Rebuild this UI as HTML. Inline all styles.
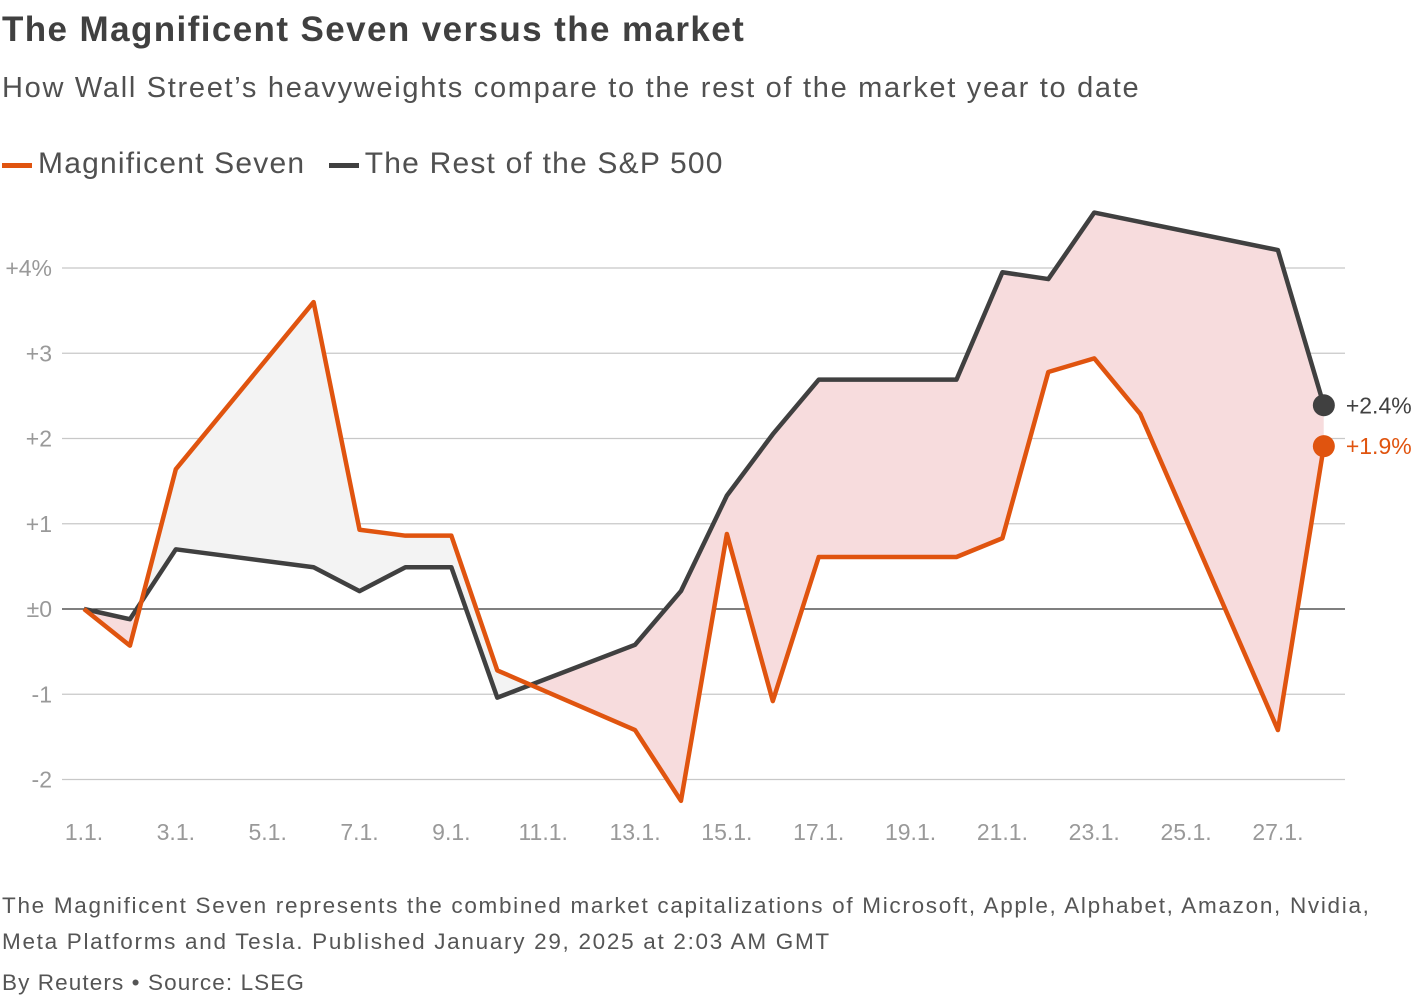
<!DOCTYPE html>
<html><head><meta charset="utf-8">
<style>
body{margin:0;width:1420px;height:1000px;background:#fff;font-family:"Liberation Sans",sans-serif;overflow:hidden;position:relative}
.t{position:absolute;left:2px;white-space:nowrap}
</style></head><body>
<div class="t" style="top:10px;font-size:35px;font-weight:bold;color:#404040;letter-spacing:1.4px">The Magnificent Seven versus the market</div>
<div class="t" style="top:72px;font-size:29px;color:#505050;letter-spacing:1.7px">How Wall Street’s heavyweights compare to the rest of the market year to date</div>
<div class="t" style="top:147px;font-size:30px;color:#505050;letter-spacing:1.2px">
<span><span style="display:inline-block;width:30px;height:5px;background:#e0540f;vertical-align:middle;margin-right:6px"></span>Magnificent Seven</span>
<span style="margin-left:14px"><span style="display:inline-block;width:30px;height:5px;background:#404040;vertical-align:middle;margin-right:6px"></span>The Rest of the S&amp;P 500</span>
</div>
<svg id="chart" width="1420" height="1000" style="position:absolute;left:0;top:0"></svg>
<div class="t" style="top:888px;font-size:22.5px;line-height:36px;color:#555;letter-spacing:1.7px">The Magnificent Seven represents the combined market capitalizations of Microsoft, Apple, Alphabet, Amazon, Nvidia,<br>Meta Platforms and Tesla. Published January 29, 2025 at 2:03 AM GMT</div>
<div class="t" style="top:970px;font-size:22.5px;color:#555;letter-spacing:1.1px">By Reuters • Source: LSEG</div>
<script>
const days=[1,2,3,6,7,8,9,10,13,14,15,16,17,20,21,22,23,24,27,28];
const mag7=[0,-0.43,1.64,3.6,0.93,0.86,0.86,-0.72,-1.42,-2.25,0.88,-1.08,0.61,0.61,0.83,2.78,2.94,2.29,-1.42,1.91];
const rest=[0,-0.12,0.70,0.49,0.21,0.49,0.49,-1.04,-0.42,0.21,1.33,2.05,2.69,2.69,3.95,3.87,4.65,4.54,4.21,2.39];
const yTicks=[4,3,2,1,0,-1,-2];
const yLabels=["+4%","+3","+2","+1","±0","-1","-2"];
const xTicks=[1,3,5,7,9,11,13,15,17,19,21,23,25,27];
const NS="http://www.w3.org/2000/svg";
const svg=document.getElementById('chart');
const X=d=>84+(d-1)*45.92;
const Y=v=>609-v*85.25;
function mk(t,a){const e=document.createElementNS(NS,t);for(const k in a)e.setAttribute(k,a[k]);svg.appendChild(e);return e;}
yTicks.forEach((v,i)=>{
 const l=mk('line',{x1:62,x2:1345,y1:Y(v),y2:Y(v),stroke:v===0?'#333':'#c8c8c8','stroke-width':1.3});
 
 
 const t=mk('text',{x:52,y:Y(v)+8,'text-anchor':'end','font-size':23,fill:'#999'});
 t.textContent=yLabels[i];
 
 
});
xTicks.forEach(d=>{
 const t=mk('text',{x:X(d),y:840,'text-anchor':'middle','font-size':23,fill:'#999'});
 t.textContent=d+'.1.';
 
 
});
const pts=(arr)=>arr.map((v,i)=>X(days[i])+','+Y(v));
const rp=pts(rest),mp=pts(mag7);
const between=rp.concat(mp.slice().reverse()).join(' ');
const defs=mk('defs',{});
const x0=X(days[0]),x1=X(days[days.length-1]);
function clip(id,p){const c=document.createElementNS(NS,'clipPath');c.setAttribute('id',id);const pl=document.createElementNS(NS,'polygon');pl.setAttribute('points',x0+',0 '+p.join(' ')+' '+x1+',0');c.appendChild(pl);defs.appendChild(c);}
clip('aboveRest',rp);clip('aboveMag',mp);
const g1=mk('polygon',{points:between,fill:'#f3f3f3','clip-path':'url(#aboveRest)'});


const g2=mk('polygon',{points:between,fill:'#f7dcdd','clip-path':'url(#aboveMag)'});


const l1=mk('polyline',{points:rp.join(' '),fill:'none',stroke:'#404040','stroke-width':4.5,'stroke-linejoin':'round'});


const l2=mk('polyline',{points:mp.join(' '),fill:'none',stroke:'#e0540f','stroke-width':4.5,'stroke-linejoin':'round'});


const n=days.length-1;
const d1=mk('circle',{cx:X(days[n]),cy:Y(rest[n]),r:11,fill:'#404040'});


const d2=mk('circle',{cx:X(days[n]),cy:Y(mag7[n]),r:11,fill:'#e0540f'});


const e1=mk('text',{x:X(days[n])+22,y:Y(rest[n])+8,'font-size':23,fill:'#404040'});
e1.textContent='+'+rest[n].toFixed(1)+'%';


const e2=mk('text',{x:X(days[n])+22,y:Y(mag7[n])+8,'font-size':23,fill:'#e0540f'});
e2.textContent='+'+mag7[n].toFixed(1)+'%';


</script>
</body></html>
